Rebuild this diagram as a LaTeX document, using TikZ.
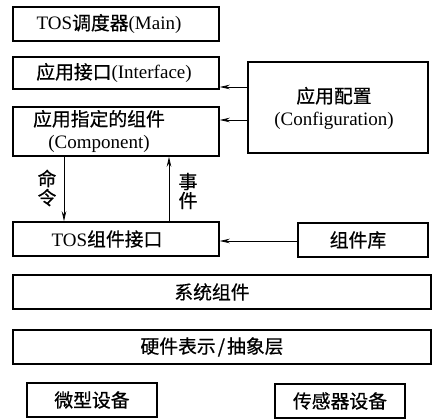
\documentclass[tikz,border=0pt]{standalone}
\usepackage{fontspec}
\setmainfont{Liberation Serif}
\newfontfamily\cjk{Noto Sans CJK SC}[Scale=0.99,FakeBold=0.6]
\usetikzlibrary{arrows.meta,calc}
\begin{document}
\begin{tikzpicture}[x=1pt,y=-1pt,
  every node/.style={font=\fontsize{19}{23}\selectfont},
  box/.style={draw, line width=1.5pt, inner sep=0pt},
  txt/.style={inner sep=0pt, align=center},
  arr/.style={line width=0.8pt, -{Stealth[length=10pt,width=4.5pt]}}]
\useasboundingbox (0,0) rectangle (434,419);
% boxes
\node[box, minimum width=206pt, minimum height=34pt] (b1) at (116,24) {};
\node[txt] (t1) at (109,24) {TOS{\cjk 调度器}(Main)};
\node[box, minimum width=206pt, minimum height=32pt] (b2) at (116,73) {};
\node[txt] (t2) at (114,73) {{\cjk 应用接口}(Interface)};
\node[box, minimum width=206pt, minimum height=49pt] (b3) at (116,131.5) {};
\node[txt] (t3) at (99,131.5) {{\cjk 应用指定的组件}\\(Component)};
\node[box, minimum width=180pt, minimum height=91pt] (cfg) at (338,107.5) {};
\node[txt] (tc) at (334,108.5) {{\cjk 应用配置}\\(Configuration)};
\node[box, minimum width=206pt, minimum height=34pt] (b4) at (116,239) {};
\node[txt] (t4) at (107,239) {TOS{\cjk 组件接口}};
\node[box, minimum width=130pt, minimum height=34pt] (lib) at (363,240) {};
\node[txt] (tl) at (358,240) {\cjk 组件库};
\node[box, minimum width=418pt, minimum height=34pt] (sys) at (222,292) {};
\node[txt] (ts) at (212,292) {\cjk 系统组件};
\node[box, minimum width=418pt, minimum height=34pt] (hw) at (222,347) {};
\node[txt] (th) at (212,347) {\cjk 硬件表示\kern2pt/\kern2pt抽象层};
\node[box, minimum width=130pt, minimum height=34pt] (mic) at (92,400) {};
\node[txt] (tm) at (92,400) {\cjk 微型设备};
\node[box, minimum width=130pt, minimum height=34pt] (sen) at (340,401) {};
\node[txt] (tsn) at (340,401) {\cjk 传感器设备};
% labels
\node[txt, font=\fontsize{19}{19}\selectfont] (cmd) at (47,188) {\cjk 命\\\cjk 令};
\node[txt, font=\fontsize{19}{19}\selectfont] (evt) at (188,191) {\cjk 事\\\cjk 件};
% helper coordinates
\coordinate (y87) at (0,87);
\coordinate (y120) at (0,120);
\coordinate (y241) at (0,241);
\coordinate (x64) at (64,0);
\coordinate (x169) at (169,0);
% arrows
\draw[arr] (cfg.west |- y87) -- (b2.east |- y87);
\draw[arr] (cfg.west |- y120) -- (b3.east |- y120);
\draw[arr] (lib.west |- y241) -- (b4.east |- y241);
\draw[arr] (b3.south -| x64) -- (b4.north -| x64);
\draw[arr] (b4.north -| x169) -- (b3.south -| x169);
\end{tikzpicture}
\end{document}
